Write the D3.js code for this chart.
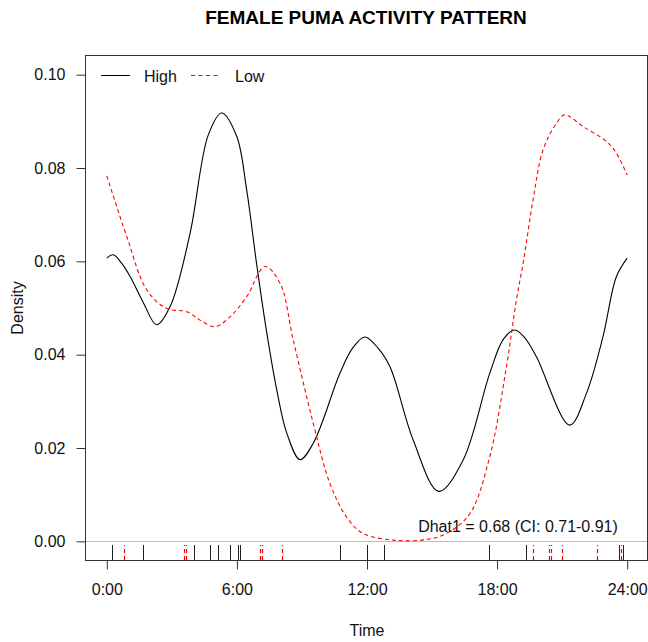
<!DOCTYPE html>
<html>
<head>
<meta charset="utf-8">
<script src="https://cdn.jsdelivr.net/npm/d3@7"></script>
<style>
  html, body { margin: 0; padding: 0; background: #fff; }
  svg { display: block; font-family: "Liberation Sans", Arial, sans-serif; }
</style>
</head>
<body>
<svg id="chart" width="648" height="642"></svg>
<script>
// Kernel density of activity, hours of day
const highHours   = [0.00, 0.30, 0.68, 1.08, 1.68, 2.30, 2.92, 3.84, 4.68, 5.30, 5.99, 6.45, 6.91, 7.38, 7.84, 8.30, 8.91, 9.52, 10.75, 11.32, 11.90, 12.51, 13.06, 14.13, 15.31, 16.43, 17.66, 18.30, 18.82, 19.28, 19.82, 21.35, 22.12, 22.88, 23.50, 24.00];
const highDensity = [0.0607, 0.0614, 0.0596, 0.0567, 0.0512, 0.0464, 0.0503, 0.0660, 0.0871, 0.0918, 0.0868, 0.0753, 0.0594, 0.0446, 0.0324, 0.0232, 0.0175, 0.0210, 0.0360, 0.0413, 0.0438, 0.0414, 0.0374, 0.0217, 0.0107, 0.0174, 0.0360, 0.0434, 0.0453, 0.0436, 0.0395, 0.0249, 0.0317, 0.0438, 0.0567, 0.0607];

const lowHours   = [0.00, 0.92, 1.84, 2.76, 3.69, 4.30, 4.99, 5.68, 6.45, 7.29, 7.99, 8.60, 9.52, 10.29, 11.06, 11.82, 13.36, 14.75, 15.67, 16.74, 17.66, 18.43, 18.89, 19.20, 19.66, 20.12, 20.74, 21.12, 21.96, 23.04, 23.50, 24.00];
const lowDensity = [0.0783, 0.0653, 0.0539, 0.0499, 0.0492, 0.0474, 0.0460, 0.0481, 0.0524, 0.0589, 0.0553, 0.0431, 0.0253, 0.0124, 0.0052, 0.0017, 0.0002, 0.0004, 0.0017, 0.0059, 0.0181, 0.0374, 0.0517, 0.0596, 0.0732, 0.0839, 0.0896, 0.0914, 0.0889, 0.0857, 0.0832, 0.0785];

// Observation times (rug)
const highRug = [0.24, 1.66, 4.01, 4.75, 5.12, 5.68, 6.05, 6.14, 10.74, 12.02, 12.80, 17.64, 19.32, 23.64, 23.82];
const lowRug  = [0.81, 3.57, 3.65, 7.08, 7.14, 8.07, 19.64, 20.41, 20.47, 20.98, 22.60, 23.70];

const xTicks = [0, 6, 12, 18, 24];
const xTickLabels = ["0:00", "6:00", "12:00", "18:00", "24:00"];
const yTicks = [0, 0.02, 0.04, 0.06, 0.08, 0.10];

const svg = d3.select("#chart");
const box = { left: 86, right: 648, top: 56, bottom: 560 };

const x = d3.scaleLinear().domain([-0.96, 24.96]).range([box.left, box.right]);
const y = d3.scaleLinear().domain([-0.004, 0.104]).range([box.bottom, box.top]);

// zero reference line
svg.append("line")
  .attr("x1", box.left).attr("x2", box.right)
  .attr("y1", Math.round(y(0)) + 0.5).attr("y2", Math.round(y(0)) + 0.5)
  .attr("stroke", "#bdbdbd").attr("stroke-width", 1);

// rug
const rugLen = 15;
svg.append("g").selectAll("line").data(highRug).join("line")
  .attr("x1", d => Math.round(x(d)) + 0.5).attr("x2", d => Math.round(x(d)) + 0.5)
  .attr("y1", box.bottom).attr("y2", box.bottom - rugLen)
  .attr("stroke", "#222").attr("stroke-width", 1);
svg.append("g").selectAll("line").data(lowRug).join("line")
  .attr("x1", d => Math.round(x(d)) + 0.5).attr("x2", d => Math.round(x(d)) + 0.5)
  .attr("y1", box.bottom).attr("y2", box.bottom - rugLen)
  .attr("stroke", "#ff0000").attr("stroke-width", 1.2)
  .attr("stroke-dasharray", "4,3");

// density curves
const line = d3.line().curve(d3.curveCatmullRom.alpha(0.5));
svg.append("path")
  .datum(highHours.map((h, i) => [x(h), y(highDensity[i])]))
  .attr("d", line)
  .attr("fill", "none").attr("stroke", "#000").attr("stroke-width", 1.1);
svg.append("path")
  .datum(lowHours.map((h, i) => [x(h), y(lowDensity[i])]))
  .attr("d", line)
  .attr("fill", "none").attr("stroke", "#ff0000").attr("stroke-width", 1.1)
  .attr("stroke-dasharray", "4,3");

// plot frame
svg.append("rect")
  .attr("x", box.left - 0.5).attr("y", box.top - 0.5)
  .attr("width", box.right - box.left).attr("height", box.bottom - box.top + 1)
  .attr("fill", "none").attr("stroke", "#333").attr("stroke-width", 1);

// axes
const xAxis = d3.axisBottom(x).tickValues(xTicks)
  .tickFormat((d, i) => xTickLabels[i]).tickSize(9).tickPadding(14);
const gx = svg.append("g").attr("transform", `translate(0,${box.bottom + 0.5})`).call(xAxis);
gx.select(".domain").attr("d", `M${x(0)},0H${x(24)}`).attr("stroke", "#333");
gx.selectAll(".tick line").attr("stroke", "#333");
gx.selectAll(".tick text").attr("font-size", 16).attr("fill", "#111");

const yAxis = d3.axisLeft(y).tickValues(yTicks)
  .tickFormat(d3.format(".2f")).tickSize(9).tickPadding(11);
const gy = svg.append("g").attr("transform", `translate(${box.left - 0.5},0)`).call(yAxis);
gy.select(".domain").attr("d", `M0,${y(0)}V${y(0.10)}`).attr("stroke", "#333");
gy.selectAll(".tick line").attr("stroke", "#333");
gy.selectAll(".tick text").attr("font-size", 16).attr("fill", "#111");

// title and axis labels
svg.append("text")
  .attr("x", 366).attr("y", 24)
  .attr("text-anchor", "middle").attr("font-size", 19).attr("font-weight", "bold")
  .attr("fill", "#000")
  .text("FEMALE PUMA ACTIVITY PATTERN");
svg.append("text")
  .attr("x", (x(0) + x(24)) / 2).attr("y", 636)
  .attr("text-anchor", "middle").attr("font-size", 16).attr("fill", "#111")
  .text("Time");
svg.append("text")
  .attr("transform", `translate(23,${(y(0) + y(0.1)) / 2}) rotate(-90)`)
  .attr("text-anchor", "middle").attr("font-size", 16).attr("fill", "#111")
  .text("Density");

// legend
const legend = svg.append("g");
legend.append("line")
  .attr("x1", 101).attr("x2", 130).attr("y1", 75.5).attr("y2", 75.5)
  .attr("stroke", "#000").attr("stroke-width", 1);
legend.append("text")
  .attr("x", 144).attr("y", 82).attr("font-size", 16).attr("fill", "#111").text("High");
legend.append("line")
  .attr("x1", 191).attr("x2", 221).attr("y1", 75.5).attr("y2", 75.5)
  .attr("stroke", "#ff0000").attr("stroke-width", 1.1).attr("stroke-dasharray", "4,3.5");
legend.append("text")
  .attr("x", 235).attr("y", 82).attr("font-size", 16).attr("fill", "#111").text("Low");

// overlap estimate annotation
svg.append("text")
  .attr("x", 518).attr("y", 532)
  .attr("text-anchor", "middle").attr("font-size", 16).attr("fill", "#111")
  .text("Dhat1 = 0.68 (CI: 0.71-0.91)");
</script>
</body>
</html>
